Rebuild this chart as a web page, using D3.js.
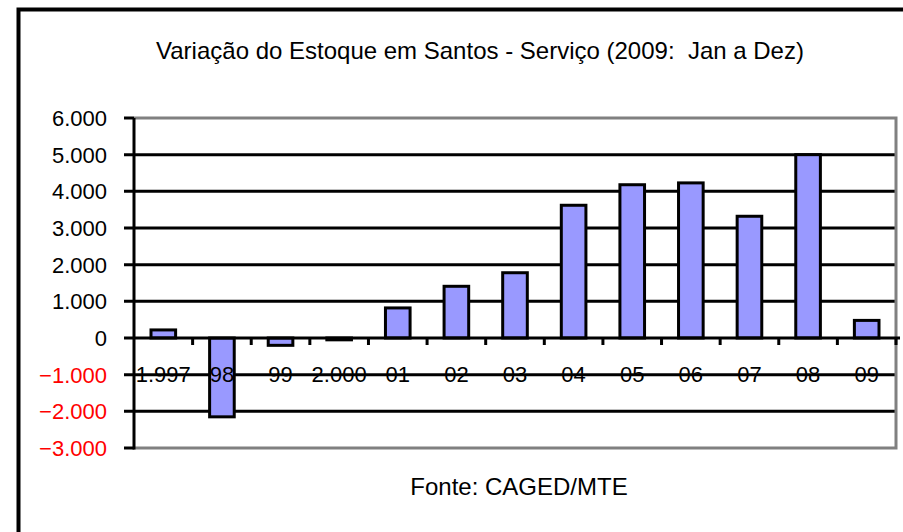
<!DOCTYPE html>
<html>
<head>
<meta charset="utf-8">
<script src="https://cdn.jsdelivr.net/npm/d3@7"></script>
<style>
  body { margin: 0; background: #fff; }
  text { font-family: "Liberation Sans", Arial, sans-serif; white-space: pre; }
</style>
</head>
<body>
<svg></svg>
<script>
const categories = ["1.997", "98", "99", "2.000", "01", "02", "03", "04", "05", "06", "07", "08", "09"];
const values = [220, -2150, -200, -50, 820, 1410, 1780, 3620, 4180, 4230, 3320, 5000, 480];
const yTicks = [-3000, -2000, -1000, 0, 1000, 2000, 3000, 4000, 5000, 6000];
const title = "Variação do Estoque em Santos - Serviço (2009:  Jan a Dez)";
const source = "Fonte: CAGED/MTE";

const width = 903, height = 532;
const plot = { left: 134, right: 896, top: 118, bottom: 448 };

const locale = d3.formatLocale({ decimal: ",", thousands: ".", grouping: [3], currency: ["", ""] });
const fmt = locale.format(",d");

const svg = d3.select("svg").attr("width", width).attr("height", height);

// outer chart frame (runs off the right and bottom)
svg.append("rect")
    .attr("x", 18.5).attr("y", 9.5)
    .attr("width", 1000).attr("height", 1000)
    .attr("fill", "none").attr("stroke", "#000").attr("stroke-width", 4);

const x = d3.scaleBand().domain(categories).range([plot.left, plot.right]).padding(0);
const y = d3.scaleLinear().domain([-3000, 6000]).range([plot.bottom, plot.top]);

function label(sel, tx, ty, str, size, anchor, color) {
    sel.append("text")
        .attr("x", tx).attr("y", ty)
        .attr("text-anchor", anchor)
        .attr("font-size", size)
        .attr("fill", color || "#000")
        .text(str);
}

// gridlines (extend left as tick marks)
svg.append("g").selectAll("line")
    .data(yTicks.filter(d => d !== 6000 && d !== -3000 && d !== 0))
    .enter().append("line")
    .attr("x1", plot.left - 10).attr("x2", plot.right)
    .attr("y1", d => y(d)).attr("y2", d => y(d))
    .attr("stroke", "#000").attr("stroke-width", 3);

// plot area border (grey)
svg.append("path")
    .attr("d", `M${plot.left},${plot.top}H${plot.right}V${plot.bottom}H${plot.left}`)
    .attr("fill", "none").attr("stroke", "#808080").attr("stroke-width", 3);

// bars
svg.append("g").selectAll("rect")
    .data(values)
    .enter().append("rect")
    .attr("x", (d, i) => x(categories[i]) + x.bandwidth() * 0.29)
    .attr("width", x.bandwidth() * 0.42)
    .attr("y", d => y(Math.max(0, d)))
    .attr("height", d => Math.abs(y(d) - y(0)))
    .attr("fill", "#9999FF")
    .attr("stroke", "#000").attr("stroke-width", 3);

// y axis
const yAxis = svg.append("g");
yAxis.append("line")
    .attr("x1", plot.left).attr("x2", plot.left)
    .attr("y1", plot.top).attr("y2", plot.bottom + 1.5)
    .attr("stroke", "#000").attr("stroke-width", 3);
yAxis.selectAll("line.tick")
    .data([6000, -3000])
    .enter().append("line").attr("class", "tick")
    .attr("x1", plot.left - 10).attr("x2", plot.left)
    .attr("y1", d => y(d)).attr("y2", d => y(d))
    .attr("stroke", "#000").attr("stroke-width", 3);
yTicks.forEach(d => {
    label(yAxis, plot.left - 27, y(d) + 8, fmt(d), 22, "end", d < 0 ? "#FF0000" : "#000");
});

// zero line with category ticks
const xAxis = svg.append("g");
xAxis.append("line")
    .attr("x1", plot.left - 10).attr("x2", plot.right + 4)
    .attr("y1", y(0)).attr("y2", y(0))
    .attr("stroke", "#000").attr("stroke-width", 3);
xAxis.selectAll("line.tick")
    .data(categories.slice(1).concat([null]))
    .enter().append("line").attr("class", "tick")
    .attr("x1", d => d === null ? plot.right : x(d))
    .attr("x2", d => d === null ? plot.right : x(d))
    .attr("y1", y(0)).attr("y2", y(0) + 7)
    .attr("stroke", "#000").attr("stroke-width", 3);
categories.forEach(c => {
    label(xAxis, x(c) + x.bandwidth() / 2, y(-1000) + 7, c, 22, "middle");
});

// title and source
label(svg, 480, 59, title, 24, "middle");
label(svg, 519, 495, source, 24, "middle");
</script>
</body>
</html>
